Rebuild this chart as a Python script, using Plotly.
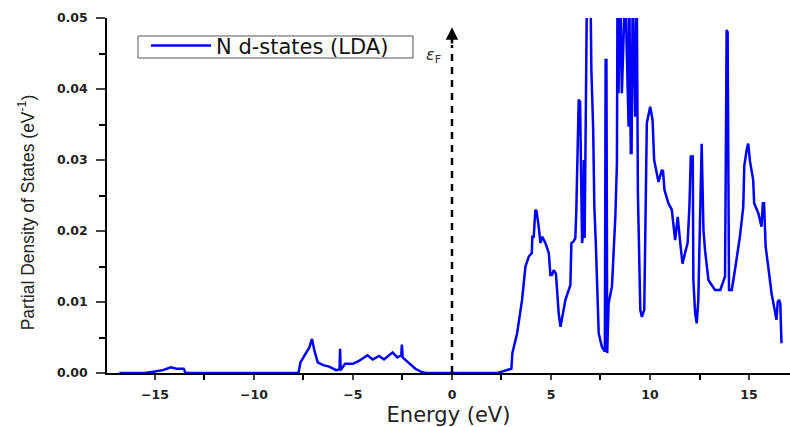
import plotly.graph_objects as go

energy = [-16.8, -15.5, -15.0, -14.6, -14.2, -13.9, -13.55, -13.5, -13.45,
          -7.75, -7.65, -7.4, -7.2, -7.07, -6.95, -6.78, -6.5, -6.2, -5.85, -5.68, -5.65, -5.62,
          -5.4, -5.0, -4.7, -4.27, -4.0, -3.68, -3.43, -3.0, -2.76, -2.56, -2.53, -2.49, -2.2,
          -1.85, -1.5, -1.3,
          2.3, 3.0, 3.05, 3.29, 3.54, 3.71, 3.88, 4.03, 4.06, 4.13, 4.21, 4.27, 4.38, 4.47, 4.55,
          4.72, 4.89, 4.97, 5.05, 5.14, 5.25, 5.39, 5.48, 5.56, 5.73, 5.98, 6.03, 6.13, 6.23,
          6.28, 6.35, 6.40, 6.47, 6.52, 6.57, 6.62, 6.66, 6.70, 6.77, 6.82, 6.99, 7.04, 7.13,
          7.19, 7.27, 7.41, 7.57, 7.72, 7.76, 7.80, 7.84, 7.91, 8.08, 8.25, 8.33, 8.36, 8.41,
          8.50, 8.58, 8.66, 8.75, 8.83, 8.92, 8.95, 9.03, 9.07, 9.13, 9.25, 9.33, 9.39, 9.51,
          9.59, 9.71, 9.84, 10.01, 10.13, 10.21, 10.43, 10.60, 10.66, 10.73, 10.93, 11.10,
          11.27, 11.40, 11.53, 11.64, 11.77, 11.90, 11.99, 12.06, 12.16, 12.19, 12.28, 12.36,
          12.44, 12.53, 12.61, 12.70, 12.78, 12.95, 13.28, 13.55, 13.79, 13.87, 13.92, 13.99,
          14.13, 14.29, 14.54, 14.71, 14.76, 14.88, 14.96, 15.05, 15.13, 15.21, 15.26, 15.47,
          15.63, 15.70, 15.76, 15.84, 15.97, 16.14, 16.39, 16.45, 16.52, 16.58, 16.64]

dos = [0.0, 0.0, 0.0002, 0.0004, 0.0008, 0.0006, 0.0006, 0.0003, 0.0,
       0.0, 0.0015, 0.0027, 0.0036, 0.0048, 0.0032, 0.0015, 0.0011, 0.0009, 0.0004, 0.0005, 0.0034, 0.0004,
       0.0013, 0.0013, 0.0017, 0.0025, 0.0019, 0.0024, 0.0019, 0.0029, 0.0022, 0.0025, 0.0040, 0.0022, 0.0015,
       0.0006, 0.0001, 0.0,
       0.0, 0.0006, 0.0028, 0.0056, 0.0103, 0.0150, 0.0164, 0.0169, 0.0192, 0.0192, 0.0230, 0.0228, 0.0206, 0.0183, 0.0192,
       0.0183, 0.0169, 0.0138, 0.0138, 0.0145, 0.0140, 0.0084, 0.0065, 0.0079, 0.0103, 0.0124, 0.0183, 0.0185, 0.0190,
       0.0230, 0.0319, 0.0385, 0.0382, 0.0262, 0.0183, 0.0195, 0.0300, 0.0190, 0.0446, 0.055, 0.055, 0.0427, 0.0344,
       0.0234, 0.0178, 0.0056, 0.0037, 0.0030, 0.0441, 0.0441, 0.0028, 0.0098, 0.0122, 0.0220, 0.0295, 0.055, 0.0394,
       0.055, 0.0394, 0.0465, 0.055, 0.0450, 0.0347, 0.055, 0.0310, 0.0310, 0.055, 0.0361, 0.055, 0.0253, 0.0089,
       0.0079, 0.0089, 0.0352, 0.0375, 0.0356, 0.0300, 0.0269, 0.0286, 0.0284, 0.0258, 0.0239, 0.0230,
       0.0187, 0.0220, 0.0183, 0.0154, 0.0169, 0.0183, 0.0234, 0.0305, 0.0305, 0.0131, 0.0084, 0.0070,
       0.0103, 0.0244, 0.0323, 0.0201, 0.0173, 0.0131, 0.0117, 0.0117, 0.0136, 0.0483, 0.0480, 0.0117,
       0.0117, 0.0145, 0.0192, 0.0234, 0.0291, 0.0314, 0.0323, 0.0298, 0.0281, 0.0272, 0.0239, 0.0225,
       0.0206, 0.0239, 0.0239, 0.0178, 0.0150, 0.0112, 0.0075, 0.0100, 0.0103, 0.0098, 0.0042]

x_ticks = [-15, -10, -5, 0, 5, 10, 15]
y_ticks = [0.00, 0.01, 0.02, 0.03, 0.04, 0.05]
y_tick_text = ["0.00", "0.01", "0.02", "0.03", "0.04", "0.05"]

wide = "DejaVu Sans, Verdana, sans-serif"
tickf = "DejaVu Sans, sans-serif"
ytitlef = "Liberation Sans, Arial, sans-serif"

fig = go.Figure()
fig.add_trace(go.Scatter(x=energy, y=dos, mode="lines", name="N d-states (LDA)",
                         line=dict(color="#0000ff", width=2.5)))
# Fermi level dashed arrow
fig.add_trace(go.Scatter(x=[0, 0], y=[0, 0.0462], mode="lines", showlegend=False,
                         line=dict(color="black", width=2.5, dash="7px,6px"), hoverinfo="skip"))
fig.add_annotation(x=0, y=0.0487, ax=0, ay=0.0462, xref="x", yref="y", axref="x", ayref="y",
                   showarrow=True, arrowhead=2, arrowsize=1, arrowwidth=2.5, arrowcolor="black", text="")
fig.add_annotation(x=-0.95, y=0.0447, xref="x", yref="y", showarrow=False,
                   text="<i>ε</i><sub>F</sub>", font=dict(family=wide, size=16, color="#333"))

# legend frame (compact box as in the reference)
fig.add_shape(type="rect", xref="paper", yref="paper", x0=0.0454, x1=0.448, y0=0.8873, y1=0.9493,
              line=dict(color="#555", width=1), fillcolor="rgba(0,0,0,0)", layer="above")

fig.update_layout(
    width=790, height=427,
    margin=dict(l=107, r=0, t=18, b=54),
    plot_bgcolor="white", paper_bgcolor="white",
    font=dict(family=wide, color="black"),
    showlegend=True,
    legend=dict(x=0.0571, y=0.979, xanchor="left", yanchor="top",
                bordercolor="rgba(0,0,0,0)", borderwidth=0, bgcolor="rgba(0,0,0,0)",
                font=dict(family=wide, size=21, color="#111"),
                itemwidth=60, tracegroupgap=0),
    xaxis=dict(range=[-17.42, 17.07], tickvals=x_ticks, ticks="outside", ticklen=5, tickwidth=1.5,
               showline=True, linecolor="black", linewidth=1.5, showgrid=False, zeroline=False,
               automargin=False,
               tickfont=dict(family=tickf, size=12.5, color="#222", weight="bold"),
               ticklabelstandoff=4,
               minor=dict(dtick=2.5, tick0=0, ticks="outside", ticklen=5, tickwidth=1.5, tickcolor="black"),
               title=dict(text="Energy (eV)", font=dict(family=wide, size=21, color="#222"), standoff=13)),
    yaxis=dict(range=[0, 0.05], tickvals=y_ticks, ticktext=y_tick_text, ticks="outside", ticklen=9, tickwidth=1.5,
               showline=True, linecolor="black", linewidth=1.5, showgrid=False, zeroline=False,
               automargin=False,
               tickfont=dict(family=tickf, size=12.5, color="#222", weight="bold"),
               ticklabelstandoff=6,
               minor=dict(dtick=0.005, tick0=0, ticks="outside", ticklen=6, tickwidth=1.5, tickcolor="black"),
               title=dict(text="Partial Density of States (eV<sup>-1</sup>)" + "&nbsp;" * 7,
                          font=dict(family=ytitlef, size=17.5, color="#222"), standoff=18)),
)

fig.write_html("out.html")
